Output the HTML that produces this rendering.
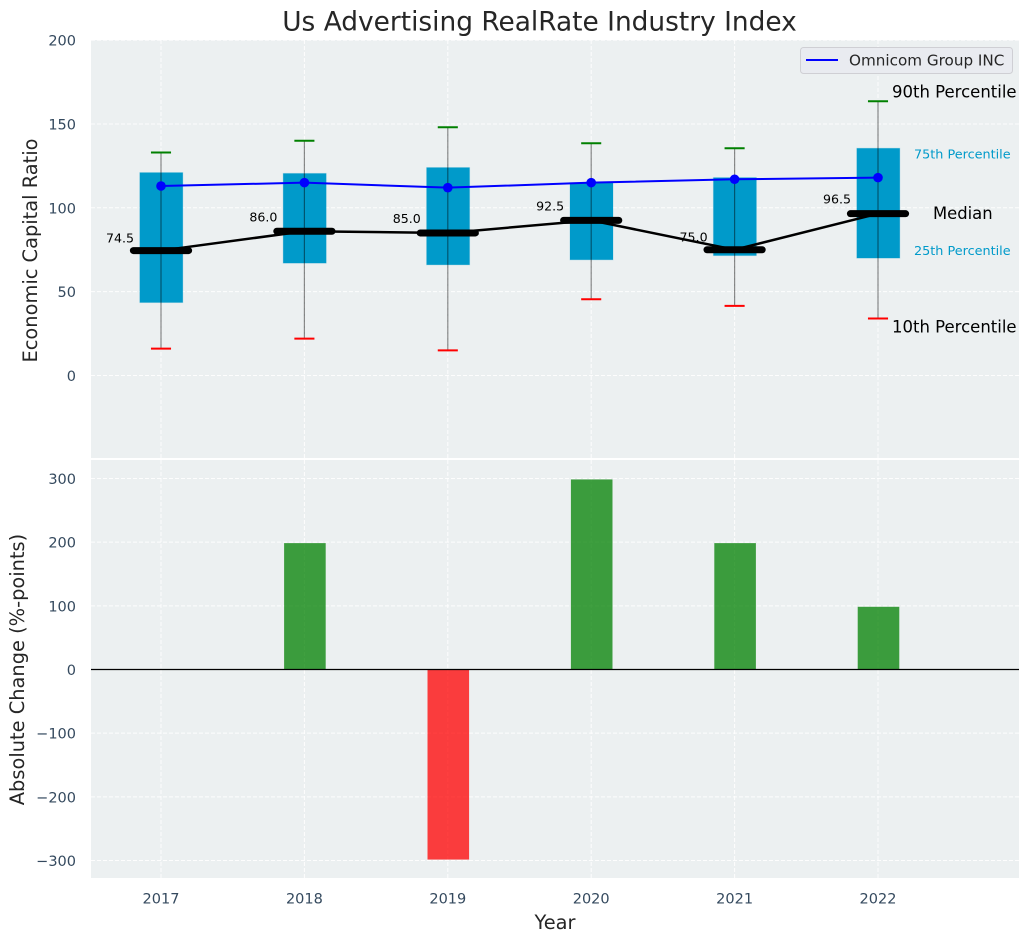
<!DOCTYPE html>
<html lang="en">
<head>
<meta charset="utf-8">
<title>Us Advertising RealRate Industry Index</title>
<style>
html,body{margin:0;padding:0;background:#fff;width:1029px;height:942px;overflow:hidden}
svg{display:block;font-family:"DejaVu Sans","Liberation Sans",sans-serif}
</style>
</head>
<body>
<svg id="chart" xmlns="http://www.w3.org/2000/svg" width="1029" height="942" viewBox="0 0 1029 942">
  <rect x="91" y="40" width="928" height="418" fill="#ecf0f1"/>
  <rect x="91" y="460" width="928" height="418" fill="#ecf0f1"/>
  <g id="grid"></g>
  <g id="bars"></g>
  <g id="boxes"></g>
  <g id="lines"></g>
  <g id="ticks" fill="#34495e" font-size="14.5"></g>
  <g id="notes"></g>
  <text x="539.5" y="30.5" text-anchor="middle" font-size="26.4" fill="#262626">Us Advertising RealRate Industry Index</text>
  <text transform="translate(37,250.5) rotate(-90)" text-anchor="middle" font-size="19.4" fill="#262626">Economic Capital Ratio</text>
  <text transform="translate(24,669.5) rotate(-90)" text-anchor="middle" font-size="19.4" fill="#262626">Absolute Change (%-points)</text>
  <text x="555" y="929" text-anchor="middle" font-size="19.4" fill="#262626">Year</text>
  <g>
    <rect x="800.5" y="47.5" width="212" height="26" rx="3" fill="#e9ebf0" stroke="#cfcfd4" stroke-width="1"/>
    <line x1="806" y1="60" x2="838" y2="60" stroke="#0000ff" stroke-width="2"/>
    <text x="849" y="65.5" font-size="15.2" fill="#262626">Omnicom Group INC</text>
  </g>
</svg>
<script>
const years = [2017, 2018, 2019, 2020, 2021, 2022];
const q1 = [43.5, 67, 66, 69, 71.5, 70];
const q3 = [121, 120.5, 124, 115, 118, 135.5];
const p10 = [16, 22, 15, 45.5, 41.5, 34];
const p90 = [133, 140, 148, 138.5, 135.5, 163.5];
const medians = [74.5, 86, 85, 92.5, 75, 96.5];
const omnicom = [113, 115, 112, 115, 117, 118];
const changes = [0, 198.5, -298.5, 298.5, 198.5, 98.5];
const topTicks = [0, 50, 100, 150, 200];
const bottomTicks = [-300, -200, -100, 0, 100, 200, 300];

const NS = 'http://www.w3.org/2000/svg';
const X = function (v) { return 161 + (v - 2017) * 143.4; };
const YT = function (v) { return 375.5 - v * 1.677; };
const YB = function (v) { return 669.5 - v * 0.6367; };
const BOX_YEARS = 0.3, BAR_YEARS = 0.29, CAP_YEARS = 0.14, MED_YEARS = 0.385;

function make(parent, tag, attrs, text) {
  const el = document.createElementNS(NS, tag);
  for (const k in attrs) el.setAttribute(k, attrs[k]);
  if (text !== undefined) el.textContent = text;
  document.getElementById(parent).appendChild(el);
  return el;
}
let el;

/* grid */
const gridDash = { stroke: '#ffffff', 'stroke-width': 1, 'stroke-dasharray': '4 2', opacity: 0.9 };
years.forEach(function (yr) {
  el = make('grid', 'line', Object.assign({ x1: X(yr), x2: X(yr), y1: 40, y2: 458 }, gridDash));
  
  
  el = make('grid', 'line', Object.assign({ x1: X(yr), x2: X(yr), y1: 460, y2: 878 }, gridDash));
  
  
  el = make('ticks', 'text', { x: X(yr), y: 903.5, 'text-anchor': 'middle' }, String(yr));
  
  
});
topTicks.forEach(function (t) {
  el = make('grid', 'line', Object.assign({ x1: 91, x2: 1019, y1: YT(t), y2: YT(t) }, gridDash));
  
  
  el = make('ticks', 'text', { x: 76, y: YT(t) + 5.5, 'text-anchor': 'end' }, String(t));
  
  
});
bottomTicks.forEach(function (t) {
  el = make('grid', 'line', Object.assign({ x1: 91, x2: 1019, y1: YB(t), y2: YB(t) }, gridDash));
  
  
  el = make('ticks', 'text', { x: 76, y: YB(t) + 5.5, 'text-anchor': 'end' }, String(t).replace('-', '\u2212'));
  
  
});

/* change bars */
years.forEach(function (yr, i) {
  const w = BAR_YEARS * 143.4;
  const top = Math.min(YB(changes[i]), YB(0));
  const h = Math.abs(YB(changes[i]) - YB(0));
  el = make('bars', 'rect', {
    x: X(yr) - w / 2 + 0.5, y: top, width: w, height: h,
    fill: changes[i] >= 0 ? '#008000' : '#ff0000', 'fill-opacity': 0.75
  });
  
  
});
el = make('bars', 'line', { x1: 91, x2: 1019, y1: YB(0), y2: YB(0), stroke: '#000', 'stroke-width': 1.3 });



/* boxes and whiskers */
years.forEach(function (yr, i) {
  const cx = X(yr);
  const bw = BOX_YEARS * 143.4;
  const cw = CAP_YEARS * 143.4;
  el = make('boxes', 'rect', {
    x: cx - bw / 2 + 0.3, y: YT(q3[i]), width: bw, height: YT(q1[i]) - YT(q3[i]),
    fill: '#009aca', stroke: '#009aca', 'stroke-opacity': 0.2, 'stroke-width': 1
  });
  
  
  el = make('boxes', 'line', { x1: cx, x2: cx, y1: YT(p90[i]), y2: YT(p10[i]), stroke: '#000', 'stroke-opacity': 0.45, 'stroke-width': 1.2 });
  
  
  el = make('boxes', 'line', { x1: cx - cw / 2, x2: cx + cw / 2, y1: YT(p90[i]), y2: YT(p90[i]), stroke: '#008000', 'stroke-width': 2 });
  
  
  el = make('boxes', 'line', { x1: cx - cw / 2, x2: cx + cw / 2, y1: YT(p10[i]), y2: YT(p10[i]), stroke: '#ff0000', 'stroke-width': 2 });
  
  
});

/* series lines */
el = make('lines', 'polyline', {
  points: years.map(function (yr, i) { return X(yr) + ',' + YT(medians[i]); }).join(' '),
  fill: 'none', stroke: '#000', 'stroke-width': 2.5
});


el = make('lines', 'polyline', {
  points: years.map(function (yr, i) { return X(yr) + ',' + YT(omnicom[i]); }).join(' '),
  fill: 'none', stroke: '#0000ff', 'stroke-width': 2
});


years.forEach(function (yr, i) {
  const cx = X(yr);
  const mw = MED_YEARS * 143.4;
  el = make('lines', 'line', {
    x1: cx - mw / 2, x2: cx + mw / 2, y1: YT(medians[i]), y2: YT(medians[i]),
    stroke: '#000', 'stroke-width': 7, 'stroke-linecap': 'round'
  });
  
  
  el = make('lines', 'circle', { cx: cx, cy: YT(omnicom[i]), r: 4.8, fill: '#0000ff' });
  
  
  el = make('notes', 'text', {
    x: cx - 27, y: YT(medians[i]) - (medians[i] < 80 ? 8 : 10), 'text-anchor': 'end', 'font-size': 12.6, fill: '#000'
  }, medians[i].toFixed(1));
  
  
});

/* percentile annotations on the last year */
const last = years.length - 1;
const lastX = X(years[last]);
el = make('notes', 'text', { x: lastX + 14, y: YT(p90[last]) - 4, 'font-size': 16.5, fill: '#000' }, '90th Percentile');


el = make('notes', 'text', { x: lastX + 14, y: YT(p10[last]) + 14, 'font-size': 16.5, fill: '#000' }, '10th Percentile');


el = make('notes', 'text', { x: lastX + 36, y: YT(q3[last]) + 10, 'font-size': 12.8, fill: '#009aca' }, '75th Percentile');


el = make('notes', 'text', { x: lastX + 36, y: YT(q1[last]) - 3, 'font-size': 12.8, fill: '#009aca' }, '25th Percentile');


el = make('notes', 'text', { x: lastX + 55, y: YT(medians[last]) + 5.5, 'font-size': 16.4, fill: '#000' }, 'Median');


</script>
</body>
</html>
